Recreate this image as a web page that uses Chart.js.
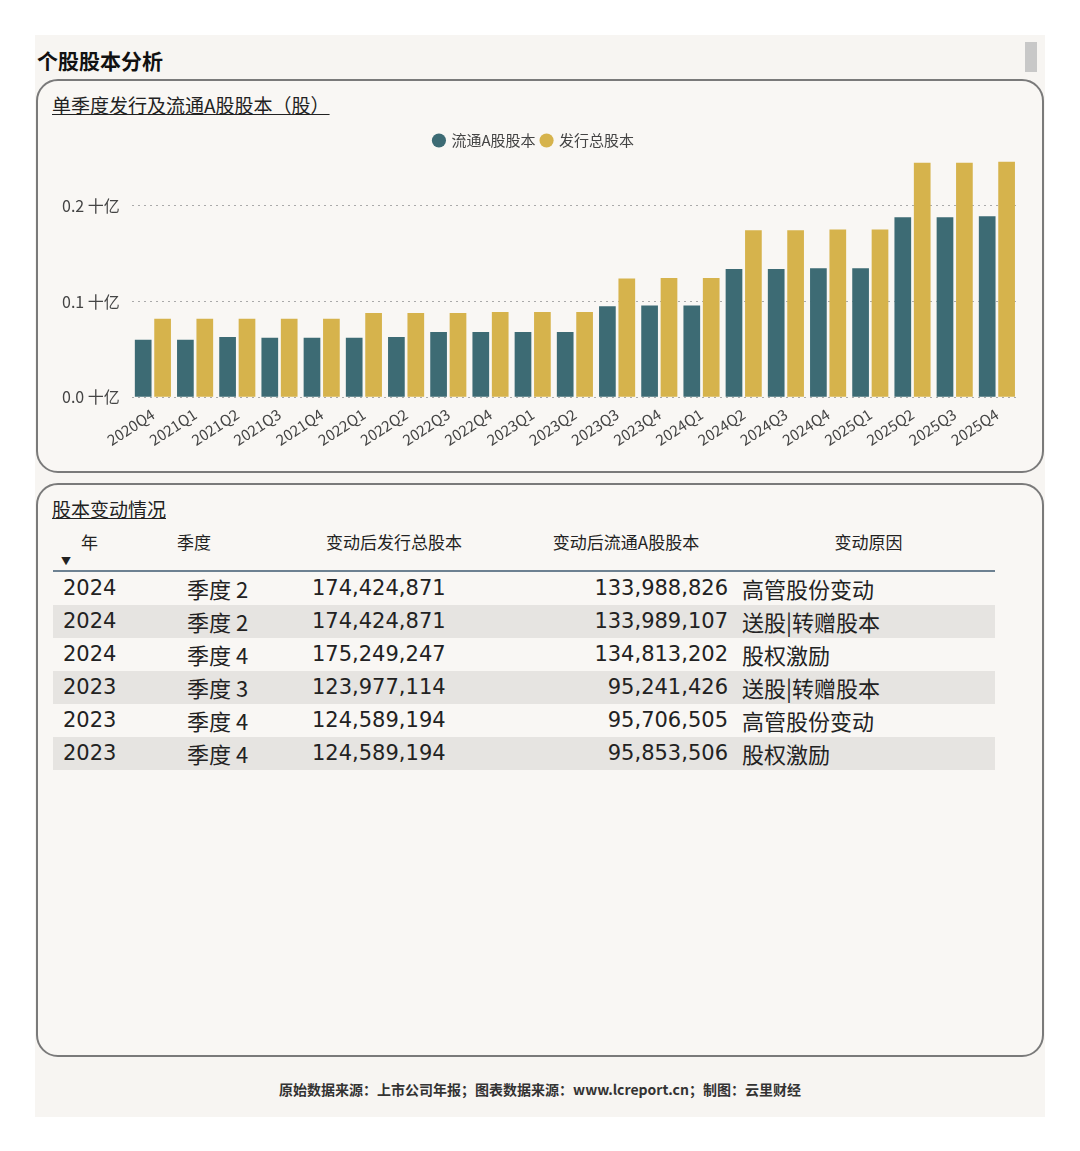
<!DOCTYPE html>
<html><head><meta charset="utf-8">
<script src="https://cdn.jsdelivr.net/npm/chart.js@4"></script>
<style>
body{margin:0;background:#fff;font-family:"Noto Sans CJK SC","Noto Sans",sans-serif;}
#wrap{position:absolute;left:35px;top:35px;width:1010px;height:1082px;background:#f7f5f2;}
#title{position:absolute;left:2px;top:10px;font-size:21px;font-weight:bold;color:#111;}
#scroll{position:absolute;left:990px;top:7px;width:12px;height:30px;background:#c8c8c8;}
.panel{position:absolute;left:1px;width:1004px;border:2px solid #7a7a7a;border-radius:22px;background:#f9f7f4;}
.ptitle{position:absolute;left:14px;font-size:19px;color:#222;text-decoration:underline;}
#chartBox{position:absolute;left:8px;top:46px;width:990px;height:322px;}
table{position:absolute;left:15px;top:44px;border-collapse:collapse;width:942px;}
th{font-weight:normal;font-size:17px;color:#222;height:40px;vertical-align:top;padding-top:0;border-bottom:2px solid #6d8191;}
td{font-size:22px;color:#222;height:33px;padding:0;line-height:33px;}
td.num{font-family:"DejaVu Sans",sans-serif;font-size:21px;}
tr.alt td{background:#e6e4e1;}
#foot{position:absolute;left:0;width:1010px;top:1044px;text-align:center;font-size:14px;font-weight:bold;color:#333;}
</style></head><body>
<div id="wrap">
<div id="title">个股股本分析</div>
<div id="scroll"></div>
<div class="panel" style="top:44px;height:390px;">
 <div class="ptitle" style="top:10px;">单季度发行及流通A股股本（股）</div>
 <div id="chartBox"><canvas id="c"></canvas></div>
</div>
<div class="panel" style="top:448px;height:570px;">
 <div class="ptitle" style="top:10px;">股本变动情况</div>
 <table id="tbl"></table>
</div>
<div id="foot">原始数据来源：上市公司年报；图表数据来源：www.lcreport.cn；制图：云里财经</div>
</div>
<script>
// quarters on the x axis
const quarters = ['2020Q4','2021Q1','2021Q2','2021Q3','2021Q4','2022Q1','2022Q2','2022Q3','2022Q4','2023Q1','2023Q2','2023Q3','2023Q4','2024Q1','2024Q2','2024Q3','2024Q4','2025Q1','2025Q2','2025Q3','2025Q4'];
// values in billions (十亿)
const floatShares = [0.060,0.060,0.063,0.062,0.062,0.062,0.063,0.068,0.068,0.068,0.068,0.095,0.0957,0.0958,0.134,0.134,0.1348,0.1348,0.188,0.188,0.189];
const totalShares = [0.082,0.082,0.082,0.082,0.082,0.088,0.088,0.088,0.089,0.089,0.089,0.124,0.1246,0.1246,0.1744,0.1744,0.1752,0.1752,0.245,0.245,0.246];
const yTicks = [0, 0.1, 0.2];

// table rows
const tblYears = ['2024','2024','2024','2023','2023','2023'];
const tblQuarters = ['季度 2','季度 2','季度 4','季度 3','季度 4','季度 4'];
const tblTotal = ['174,424,871','174,424,871','175,249,247','123,977,114','124,589,194','124,589,194'];
const tblFloat = ['133,988,826','133,989,107','134,813,202','95,241,426','95,706,505','95,853,506'];
const tblReason = ['高管股份变动','送股|转赠股本','股权激励','送股|转赠股本','高管股份变动','股权激励'];

let html = '<tr><th style="width:95px;position:relative;text-align:left;padding-left:28px">年<span style="position:absolute;left:8px;top:24px;font-size:10px">▼</span></th><th style="width:100px;text-align:left;padding-left:0">季度</th><th style="width:230px">变动后发行总股本</th><th style="width:230px">变动后流通A股股本</th><th>变动原因</th></tr>';
tblYears.forEach((y, i) => {
  html += `<tr class="${i % 2 ? 'alt' : ''}"><td class="num" style="padding-left:10px">${y}</td><td style="padding-left:10px">${tblQuarters[i]}</td><td class="num" style="padding-left:34px">${tblTotal[i]}</td><td class="num" style="text-align:right;padding-right:14px">${tblFloat[i]}</td><td>${tblReason[i]}</td></tr>`;
});
document.getElementById('tbl').innerHTML = html;

Chart.defaults.font.family = '"Noto Sans CJK SC","Noto Sans",sans-serif';
new Chart(document.getElementById('c'), {
  type: 'bar',
  data: {
    labels: quarters,
    datasets: [
      { label: '流通A股股本', data: floatShares, backgroundColor: '#3d6b74' },
      { label: '发行总股本', data: totalShares, backgroundColor: '#d6b34c' }
    ]
  },
  options: {
    responsive: true, maintainAspectRatio: false, animation: false,
    layout: { padding: { right: 18, left: 4 } },
    datasets: { bar: { barPercentage: 0.86, categoryPercentage: 0.92 } },
    plugins: {
      legend: { position: 'top', labels: { usePointStyle: true, pointStyle: 'circle', boxWidth: 10, boxHeight: 10, padding: 6, font: { size: 15 }, color: '#444' } },
      tooltip: { enabled: false }
    },
    scales: {
      x: {
        grid: { display: false }, border: { display: false },
        ticks: { minRotation: 33, maxRotation: 33, padding: 0, font: { size: 15 }, color: '#444' }
      },
      y: {
        min: 0, max: 0.25,
        afterBuildTicks: axis => { axis.ticks = yTicks.map(v => ({ value: v })); },
        border: { display: false, dash: [2, 4] },
        grid: { color: '#aaa', drawTicks: false },
        ticks: { padding: 12, font: { size: 16 }, color: '#444', callback: v => v.toFixed(1) + ' 十亿' }
      }
    }
  }
});
</script>
</body></html>
